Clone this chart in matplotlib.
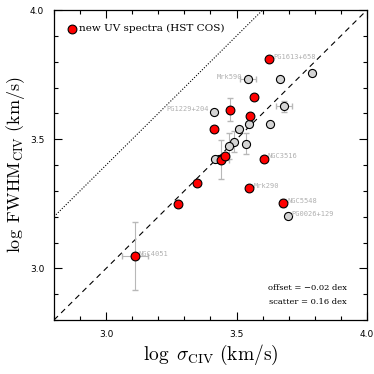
import matplotlib
matplotlib.use("Agg")
import matplotlib.pyplot as plt
import numpy as np

# new UV spectra (HST COS) - red
new_x = [3.109, 3.274, 3.347, 3.442, 3.454, 3.604, 3.549, 3.679, 3.624, 3.568, 3.473, 3.553, 3.413]
new_y = [3.048, 3.248, 3.331, 3.420, 3.435, 3.425, 3.311, 3.252, 3.809, 3.663, 3.614, 3.589, 3.538]
new_xerr = [0.05, 0.0, 0.0, 0.03, 0.0, 0.0, 0.0, 0.0, 0.0, 0.0, 0.0, 0.0, 0.0]
new_yerr = [0.13, 0.0, 0.0, 0.075, 0.0, 0.0, 0.0, 0.015, 0.0, 0.0, 0.045, 0.0, 0.0]

# other sample - grey
old_x = [3.544, 3.667, 3.791, 3.682, 3.415, 3.627, 3.509, 3.547, 3.491, 3.537, 3.470, 3.432, 3.417, 3.696]
old_y = [3.731, 3.734, 3.756, 3.627, 3.606, 3.558, 3.541, 3.557, 3.490, 3.482, 3.472, 3.422, 3.422, 3.204]
old_xerr = [0.03, 0.0, 0.0, 0.03, 0.0, 0.0, 0.0, 0.0, 0.0, 0.0, 0.0, 0.02, 0.0, 0.0]
old_yerr = [0.0, 0.0, 0.0, 0.02, 0.0, 0.0, 0.0, 0.0, 0.04, 0.04, 0.05, 0.0, 0.0, 0.01]

# labels
lab_names = ["PG1613+658", "Mrk590", "PG1229+204", "NGC3516", "Mrk290", "NGC5548", "PG0026+129", "NGC4051"]
lab_x = [3.624, 3.544, 3.415, 3.604, 3.549, 3.679, 3.696, 3.109]
lab_y = [3.809, 3.731, 3.606, 3.425, 3.311, 3.252, 3.204, 3.048]
lab_side = ["r", "l", "l", "r", "r", "r", "r", "r"]

offset_dex = -0.02
scatter_dex = 0.16
upper_offset = 0.4

plt.rcParams["mathtext.fontset"] = "cm"

fig = plt.figure(figsize=(3.74, 3.74), dpi=100)
ax = fig.add_axes([54/374, 54/374, 313/374, 310/374])

lims = [2.8, 4.0]
ax.plot(lims, lims, ls=(0, (5, 4)), color="black", lw=0.8, zorder=1)
ax.plot(lims, [lims[0] + upper_offset, lims[1] + upper_offset], ls=(0, (1, 1.5)), color="black", lw=0.8, zorder=1)

ecol = "#b8b8b8"
ax.errorbar(old_x, old_y, xerr=old_xerr, yerr=old_yerr, fmt="none", ecolor=ecol, elinewidth=0.8, capsize=2, zorder=2)
ax.errorbar(new_x, new_y, xerr=new_xerr, yerr=new_yerr, fmt="none", ecolor=ecol, elinewidth=0.8, capsize=2, zorder=2)
ax.scatter(old_x, old_y, s=34, facecolor="#d4d4d4", edgecolor="black", linewidth=0.8, zorder=3)
ax.scatter(new_x, new_y, s=40, facecolor="#ff0000", edgecolor="black", linewidth=0.8, zorder=4)

for name, x, y, side in zip(lab_names, lab_x, lab_y, lab_side):
    if side == "r":
        ax.annotate(name, (x, y), xytext=(3, 1.5), textcoords="offset points",
                    fontsize=5, color="#b0b0b0", family="DejaVu Sans Mono", ha="left", va="center")
    else:
        ax.annotate(name, (x, y), xytext=(-4, 2), textcoords="offset points",
                    fontsize=5, color="#b0b0b0", family="DejaVu Sans Mono", ha="right", va="center")

# legend
ax.scatter([0.058], [0.939], s=40, facecolor="#ff0000", edgecolor="black", linewidth=0.8,
           transform=ax.transAxes, zorder=5, clip_on=False)
ax.text(0.08, 0.939, "new UV spectra (HST COS)", transform=ax.transAxes, fontsize=7.5,
        family="DejaVu Serif", va="center", ha="left")

ax.text(0.936, 0.103, "offset = \u2212" + f"{abs(offset_dex):.2f} dex",
        transform=ax.transAxes, fontsize=6, family="DejaVu Serif", ha="right", va="center")
ax.text(0.936, 0.058, f"scatter = {scatter_dex:.2f} dex",
        transform=ax.transAxes, fontsize=6, family="DejaVu Serif", ha="right", va="center")

ax.set_xlim(lims)
ax.set_ylim(lims)
ax.set_xticks([3.0, 3.5, 4.0])
ax.set_yticks([3.0, 3.5, 4.0])
ax.set_xticks(np.arange(2.8, 4.01, 0.1), minor=True)
ax.set_yticks(np.arange(2.8, 4.01, 0.1), minor=True)
ax.set_xticklabels(["3.0", "3.5", "4.0"])
ax.set_yticklabels(["3.0", "3.5", "4.0"])
ax.tick_params(which="both", direction="in", top=True, right=True, labelsize=6.5, width=0.8, pad=7)
ax.tick_params(which="major", length=6)
ax.tick_params(which="minor", length=3)
for sp in ax.spines.values():
    sp.set_linewidth(0.9)

ax.set_xlabel(r"$\log\ \sigma_{\rm CIV}\ ({\rm km/s})$", fontsize=14, labelpad=3)
ax.set_ylabel(r"$\log\ {\rm FWHM}_{\rm CIV}\ ({\rm km/s})$", fontsize=13, labelpad=2)

fig.savefig("out.png", dpi=100)
